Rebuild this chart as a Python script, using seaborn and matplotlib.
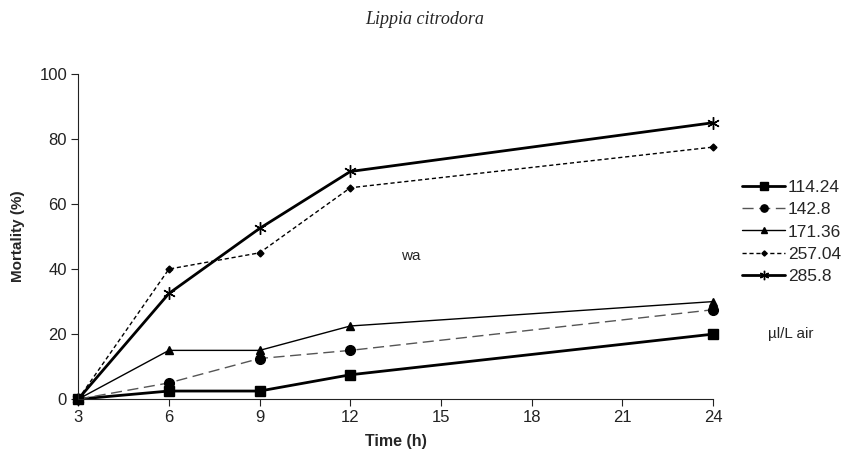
import pandas as pd
import matplotlib
matplotlib.use("Agg")
import matplotlib.pyplot as plt
import seaborn as sns

sns.set_theme(style="ticks")
plt.rcParams['font.family'] = ['Liberation Sans', 'DejaVu Sans']

# Data
times = [3, 6, 9, 12, 24]
doses = ['114.24', '142.8', '171.36', '257.04', '285.8']
mort_114 = [0, 2.5, 2.5, 7.5, 20]
mort_142 = [0, 5, 12.5, 15, 27.5]
mort_171 = [0, 15, 15, 22.5, 30]
mort_257 = [0, 40, 45, 65, 77.5]
mort_285 = [0, 32.5, 52.5, 70, 85]
x_ticks = [3, 6, 9, 12, 15, 18, 21, 24]
y_ticks = [0, 20, 40, 60, 80, 100]

df = pd.DataFrame({
    'time': times * 5,
    'mortality': mort_114 + mort_142 + mort_171 + mort_257 + mort_285,
    'dose': [d for d in doses for _ in times],
})

# line style per dose
styles = {
    '114.24': dict(marker='s', ms=7, lw=2.0, ls='-', color='black'),
    '142.8': dict(marker='o', ms=7, lw=1.0, ls=(0, (8, 4)), color='#555555'),
    '171.36': dict(marker='^', ms=6, lw=1.0, ls='-', color='black'),
    '257.04': dict(marker='D', ms=3.5, lw=1.0, ls=(0, (3, 2)), color='black'),
    '285.8': dict(marker=(6, 2, 0), ms=9, lw=2.0, ls='-', color='black'),
}

fig = plt.figure(figsize=(8.5, 4.62), dpi=100)
ax = fig.add_axes([0.092, 0.136, 0.747, 0.704])

for d in doses:
    st = styles[d]
    sub = df[df['dose'] == d]
    sns.lineplot(data=sub, x='time', y='mortality', ax=ax, label=d,
                 color=st['color'], linewidth=st['lw'], linestyle=st['ls'],
                 marker=st['marker'], markersize=st['ms'],
                 markerfacecolor='black', markeredgecolor='black', mew=1.0)

ax.set_xlim(3, 24)
ax.set_ylim(0, 100)
ax.set_xticks(x_ticks)
ax.set_yticks(y_ticks)
ax.tick_params(axis='both', labelsize=12, direction='out', length=5, width=0.8,
               colors='#222222', pad=3)
ax.set_xlabel('Time (h)', fontsize=11.5, fontweight='bold', labelpad=6)
ax.set_ylabel('Mortality (%)', fontsize=11, fontweight='bold', labelpad=10)
for s in ['top', 'right']:
    ax.spines[s].set_visible(False)
for s in ['left', 'bottom']:
    ax.spines[s].set_color('#222222')
    ax.spines[s].set_linewidth(0.8)
for ln in ax.lines:
    ln.set_clip_on(False)

leg = ax.legend(loc='center left', bbox_to_anchor=(0.873, 0.498),
                bbox_transform=fig.transFigure, frameon=False,
                fontsize=12.5, handlelength=2.5, handletextpad=0.15, labelspacing=0.4,
                borderaxespad=0, borderpad=0, markerscale=0.75)

fig.text(0.5, 0.958, 'Lippia citrodora', ha='center', va='center', fontsize=13,
         style='italic', family=['Liberation Serif', 'DejaVu Serif'])
ax.text(14.0, 44, 'wa', fontsize=11, ha='center', va='center')
fig.text(0.93, 0.278, 'µl/L air', fontsize=11, ha='center', va='center')

fig.savefig('out.png', dpi=100)
